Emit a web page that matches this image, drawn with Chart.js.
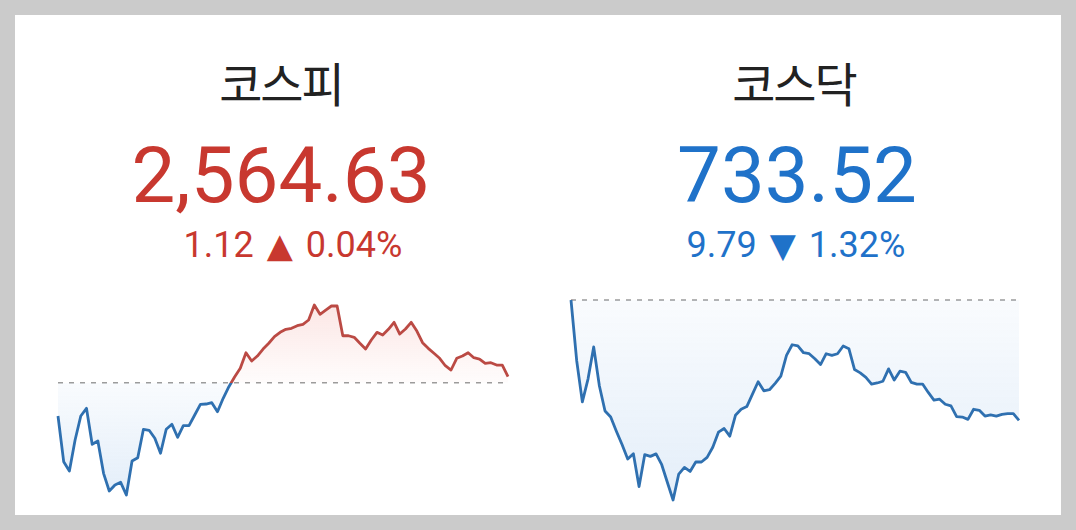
<!DOCTYPE html>
<html>
<head>
    <meta charset="utf-8">
    <title>코스피 / 코스닥</title>
    <script src="https://cdn.jsdelivr.net/npm/chart.js@4.4.0/dist/chart.umd.min.js"></script>
    <style>
        body {
            margin: 0;
            padding: 0;
            width: 1076px;
            height: 530px;
            background-color: #cbcbcb;
            overflow: hidden;
            font-family: Roboto, "Noto Sans", sans-serif;
        }
        .card {
            position: absolute;
            left: 15px;
            top: 15px;
            width: 1046px;
            height: 500px;
            background: #fff;
        }
        .txt {
            position: absolute;
            width: 400px;
            text-align: center;
            line-height: 1;
            white-space: nowrap;
        }
        .title {
            font-family: "Noto Sans CJK KR", sans-serif;
            font-size: 47px;
            font-weight: 400;
            color: #222;
            letter-spacing: -2px;
        }
        .price { font-size: 78px; }
        .change { font-size: 36px; }
        .up { color: #c8382f; }
        .down { color: #1f72c9; }
        .tri { font-family: "DejaVu Sans", sans-serif; font-size: 34px; margin: 0 4px; }
        canvas { position: absolute; }
    </style>
</head>
<body>
    <div class="card"></div>

    <div class="txt title" style="left:81px; top:58px;">코스피</div>
    <div class="txt price up" style="left:81px; top:137px;">2,564.63</div>
    <div class="txt change up" style="left:93px; top:227px;">1.12 <span class="tri">▲</span> 0.04%</div>

    <div class="txt title" style="left:594px; top:58px;">코스닥</div>
    <div class="txt price down" style="left:597px; top:137px;">733.52</div>
    <div class="txt change down" style="left:596px; top:227px;">9.79 <span class="tri">▼</span> 1.32%</div>

    <canvas id="kospiChart" width="466" height="210" style="left:50px; top:295px;"></canvas>
    <canvas id="kosdaqChart" width="464" height="220" style="left:563px; top:290px;"></canvas>

    <script>
        // 장중 시세 (약 5분 간격, 그림에서 읽은 값)
        const kospiPrevClose = 2563.51;
        const kospiValues = [
            2557.29, 2548.76, 2547.02, 2552.81, 2557.29, 2558.73, 2552.01, 2552.63, 2546.59, 2543.29,
            2544.41, 2544.91, 2542.54, 2548.89, 2549.51, 2554.81, 2554.62, 2553.13, 2550.33, 2554.81,
            2555.74, 2553.32, 2555.48, 2555.48, 2557.48, 2559.48, 2559.53, 2559.78, 2558.10, 2560.60,
            2562.76, 2564.57, 2566.20, 2569.11, 2567.56, 2568.49, 2569.80, 2570.87, 2572.10, 2572.92,
            2573.48, 2573.67, 2574.15, 2574.41, 2575.22, 2578.02, 2576.28, 2577.08, 2577.83, 2577.83,
            2572.28, 2572.28, 2571.99, 2570.87, 2569.80, 2571.48, 2572.92, 2572.42, 2573.48, 2574.79,
            2572.60, 2573.54, 2574.79, 2573.16, 2570.98, 2569.93, 2569.00, 2568.07, 2566.68, 2565.88,
            2568.07, 2568.49, 2569.11, 2568.18, 2567.93, 2567.13, 2567.24, 2566.81, 2566.81, 2564.63
        ];

        const kosdaqPrevClose = 743.31;
        const kosdaqValues = [
            743.31, 738.39, 735.02, 736.88, 739.49, 736.33, 734.28, 733.79, 732.64, 731.55,
            730.38, 730.81, 728.13, 730.73, 730.59, 730.79, 729.91, 728.46, 727.04, 729.15,
            729.69, 729.36, 730.13, 730.13, 730.51, 731.33, 732.56, 732.86, 732.23, 733.93,
            734.42, 734.64, 735.65, 736.66, 735.92, 736.01, 736.53, 737.11, 738.80, 739.67,
            739.57, 739.02, 738.94, 738.53, 738.06, 738.94, 738.80, 738.94, 739.57, 739.35,
            737.65, 737.38, 737.02, 736.47, 736.56, 736.70, 737.71, 736.80, 737.52, 737.43,
            736.61, 736.47, 736.47, 735.79, 735.16, 735.24, 734.83, 734.69, 733.82, 733.79,
            733.60, 734.42, 734.34, 733.87, 733.96, 733.87, 734.01, 734.07, 734.07, 733.52
        ];

        const timeLabels = kospiValues.map((v, i) => i + 1);

        const upLine = '#bb4a44';
        const downLine = '#2f70b0';

        function makeChart(id, values, prevClose, pad) {
            const ctx = document.getElementById(id).getContext('2d');
            const lo = Math.min(...values, prevClose);
            const hi = Math.max(...values, prevClose);

            // 기준선 위는 빨강, 아래는 파랑
            function baseFrac(chart) {
                const a = chart.chartArea;
                const py = chart.scales.y.getPixelForValue(prevClose);
                return Math.min(1, Math.max(0, (py - a.top) / (a.bottom - a.top)));
            }

            return new Chart(ctx, {
                type: 'line',
                data: {
                    labels: timeLabels,
                    datasets: [{
                        data: values,
                        borderWidth: 2.8,
                        borderJoinStyle: 'round',
                        pointRadius: 0,
                        tension: 0,
                        clip: false,
                        borderColor: function (c) {
                            const chart = c.chart;
                            if (!chart.chartArea) return downLine;
                            const a = chart.chartArea;
                            const f = baseFrac(chart);
                            const g = chart.ctx.createLinearGradient(0, a.top, 0, a.bottom);
                            g.addColorStop(0, upLine);
                            g.addColorStop(f, upLine);
                            g.addColorStop(f, downLine);
                            g.addColorStop(1, downLine);
                            return g;
                        },
                        fill: function (c) {
                            const chart = c.chart;
                            if (!chart.chartArea) {
                                return { target: { value: prevClose }, above: 'rgba(235,120,110,0.1)', below: 'rgba(70,140,215,0.1)' };
                            }
                            const a = chart.chartArea;
                            const py = chart.scales.y.getPixelForValue(prevClose);
                            const gUp = chart.ctx.createLinearGradient(0, a.top, 0, py);
                            gUp.addColorStop(0, 'rgba(235,110,100,0.17)');
                            gUp.addColorStop(1, 'rgba(235,110,100,0.02)');
                            const gDown = chart.ctx.createLinearGradient(0, py, 0, a.bottom);
                            gDown.addColorStop(0, 'rgba(70,140,215,0.03)');
                            gDown.addColorStop(1, 'rgba(70,140,215,0.15)');
                            return { target: { value: prevClose }, above: gUp, below: gDown };
                        }
                    }, {
                        data: values.map(() => prevClose),
                        borderColor: '#9c9c9c',
                        borderWidth: 1.5,
                        borderDash: [5, 6],
                        pointRadius: 0,
                        fill: false,
                        clip: false
                    }]
                },
                options: {
                    responsive: false,
                    animation: false,
                    layout: { padding: pad },
                    scales: {
                        x: { display: false, offset: false },
                        y: { display: false, min: lo, max: hi }
                    },
                    plugins: {
                        legend: { display: false },
                        tooltip: { enabled: false }
                    }
                }
            });
        }

        makeChart('kospiChart', kospiValues, kospiPrevClose, { left: 8, right: 8, top: 10, bottom: 10 });
        makeChart('kosdaqChart', kosdaqValues, kosdaqPrevClose, { left: 8, right: 8, top: 10, bottom: 10 });
    </script>
</body>
</html>
